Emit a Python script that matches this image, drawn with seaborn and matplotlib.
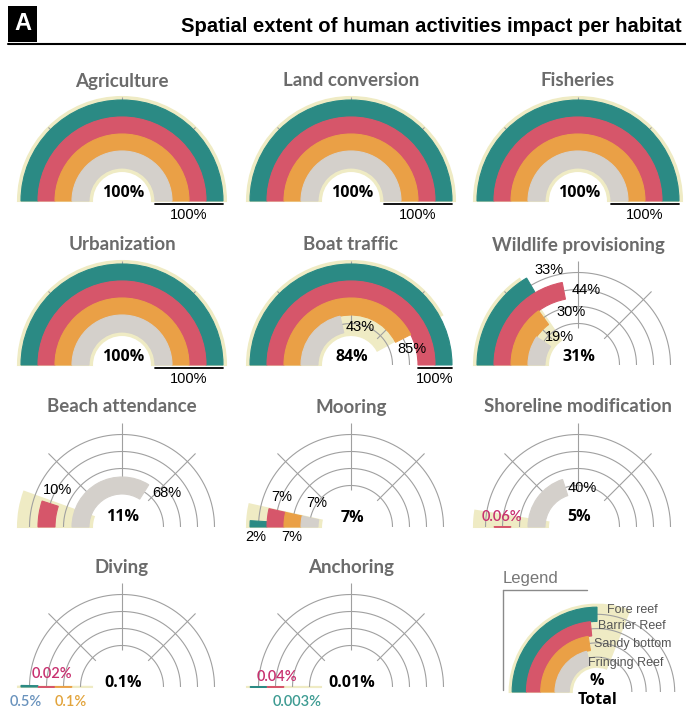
import numpy as np
import matplotlib
matplotlib.use('Agg')
import matplotlib.pyplot as plt
import seaborn as sns
from matplotlib.patches import Rectangle
from matplotlib.lines import Line2D

sns.set_theme(style='white')
plt.rcParams['font.family'] = ['Liberation Sans', 'DejaVu Sans']

# data: percentage of each habitat impacted per activity
activities = ['Agriculture', 'Land conversion', 'Fisheries', 'Urbanization',
              'Boat traffic', 'Wildlife provisioning', 'Beach attendance',
              'Mooring', 'Shoreline modification', 'Diving', 'Anchoring']
fore_reef = [100, 100, 100, 100, 100, 33, 0, 2, 0, 0.5, 0.003]
barrier_reef = [100, 100, 100, 100, 100, 44, 10, 7, 0.06, 0.02, 0.04]
sandy_bottom = [100, 100, 100, 100, 85, 30, 0, 7, 0, 0.1, 0]
fringing_reef = [100, 100, 100, 100, 43, 19, 68, 7, 40, 0, 0]
total = [100, 100, 100, 100, 84, 31, 11, 7, 5, 0.1, 0.01]

habitats = ['Fore reef', 'Barrier Reef', 'Sandy bottom', 'Fringing Reef']
legend_values = [50, 47, 45, 42]
legend_total = 62

colors = sns.color_palette(['#2b8a84', '#d6566a', '#eaa046', '#d4d0cb'])
cream = '#efebc4'
magenta = '#c8306f'
grid_c = '#a0a0a0'

W, H = 686, 710
R0, RW, RMAX = 33, 17, 105
col_x = [122, 351, 578]
row_base = [201, 365, 527, 687]

# where each ring label goes (ring index, dx, dy, colour) relative to the centre
label_pos = {
    'Boat traffic': [(3, 9, -38, 'black'), (2, 61, -16, 'black')],
    'Wildlife provisioning': [(0, -29, -95, 'black'), (1, 8, -75, 'black'),
                              (2, -7, -53, 'black'), (3, -19, -28, 'black')],
    'Beach attendance': [(1, -65, -37, 'black'), (3, 45, -34, 'black')],
    'Mooring': [(1, -69, -30, 'black'), (3, -34, -24, 'black'),
                (0, -95, 10, 'black'), (2, -59, 10, 'black')],
    'Shoreline modification': [(3, 4, -39, 'black'), (1, -76, -10, magenta)],
    'Diving': [(1, -70, -13, magenta), (0, -96, 15, '#6a93bd'), (2, -51, 15, '#e2a43c')],
    'Anchoring': [(1, -74, -10, magenta), (0, -54, 15, '#3d9b92')],
}
total_dy = {'Beach attendance': -10, 'Mooring': -9, 'Shoreline modification': -10,
            'Diving': -4, 'Anchoring': -4}

fig = plt.figure(figsize=(W / 100, H / 100), dpi=100)


def put(x, y, s, **kw):
    kw.setdefault('ha', 'center')
    kw.setdefault('va', 'center')
    fig.text(x / W, 1 - y / H, s, **kw)


def hline(x0, x1, y, **kw):
    fig.add_artist(Line2D([x0 / W, x1 / W], [1 - y / H] * 2, transform=fig.transFigure, **kw))


def pct(v):
    return f'{v:g}%'


def draw_panel(cx, base, values, tot, scale=1.0, radial=True):
    # a half polar axes sits in a square box, the centre 1/4 up from its bottom
    R = RMAX * scale
    ax = fig.add_axes([(cx - R) / W, (H - base - 0.5 * R) / H, 2 * R / W, 2 * R / H],
                      projection='polar')
    ax.set_theta_zero_location('W')
    ax.set_theta_direction(-1)
    ax.set_thetamin(0)
    ax.set_thetamax(180)
    ax.set_ylim(0, RMAX)
    ax.set_axis_off()
    # ring-centre arcs and short radial guides
    theta = np.linspace(0, np.pi, 181)
    for k in range(4):
        ax.plot(theta, np.full_like(theta, R0 + RW * (k + 0.5)), color=grid_c, lw=0.8, zorder=0.5)
    if radial:
        ax.vlines(np.deg2rad([45, 90, 135]), 37, 104, color=grid_c, lw=0.8, zorder=0.6)
    # total extent wedge behind the rings
    ax.bar(0, R0 + 4 * RW + 3 - (R0 - 3), width=np.pi * tot / 100, bottom=R0 - 3,
           align='edge', color=cream, edgecolor=cream, lw=1.5, zorder=0.2, clip_on=False)
    for i, v in enumerate(values):
        if v > 0:
            ax.bar(0, RW, width=np.pi * v / 100, bottom=R0 + (3 - i) * RW, align='edge',
                   color=colors[i], edgecolor=colors[i], lw=0.8, zorder=2, clip_on=False)
    return ax


# header
fig.add_artist(Rectangle((8 / W, 1 - 42 / H), 29 / W, 36 / H, transform=fig.transFigure,
                         facecolor='black', edgecolor='none'))
put(22.5, 24, 'A', color='white', fontsize=17, fontweight='bold')
put(682, 27, 'Spatial extent of human activities impact per habitat', ha='right',
    fontsize=14.6, fontweight='bold', color='black')
hline(8, 686, 44, color='black', lw=1.5)

for k, name in enumerate(activities):
    cx, base = col_x[k % 3], row_base[k // 3]
    vals = [fore_reef[k], barrier_reef[k], sandy_bottom[k], fringing_reef[k]]
    draw_panel(cx, base, vals, total[k])
    put(cx, base - 120, name, fontsize=13.5, fontweight='bold', color='#6b6b6b',
        family=['Lato', 'DejaVu Sans'])
    put(cx + 1, base + total_dy.get(name, -8), pct(total[k]), fontsize=11.5,
        fontweight='bold', color='black', family=['Open Sans', 'DejaVu Sans'])
    full = [i for i, v in enumerate(vals) if v >= 100]
    if full:
        r_lo = R0 + (3 - max(full)) * RW
        r_hi = R0 + 4 * RW
        hline(cx + r_lo, cx + r_hi, base + 3, color='black', lw=1.3)
        put(cx + (r_lo + r_hi) / 2, base + 14, '100%', fontsize=10.5, color='black')
    for ring, dx, dy, c in label_pos.get(name, []):
        if c == 'black':
            put(cx + dx, base + dy, pct(vals[ring]), fontsize=10.5, color=c)
        else:
            put(cx + dx, base + dy, pct(vals[ring]), fontsize=10.5, color=c,
                family=['Lato', 'DejaVu Sans'], fontweight='semibold')

# legend panel
lx, lb = 597, 692
draw_panel(lx, lb, legend_values, legend_total, scale=0.84, radial=False)
put(503, 578, 'Legend', ha='left', fontsize=12, color='#777777')
fig.add_artist(Line2D([503 / W, 503 / W], [1 - 590 / H, 1 - 690 / H],
                      transform=fig.transFigure, color='#8a8a8a', lw=1))
hline(503, 587, 590, color='#8a8a8a', lw=1)
for name, (x, y) in zip(habitats, [(632, 610), (632, 626), (633, 644), (626, 663)]):
    put(x, y, name, fontsize=9, color='#555555')
put(lx, 681, '%', fontsize=11.5, fontweight='bold', color='black',
    family=['Open Sans', 'DejaVu Sans'])
put(lx, 700, 'Total', fontsize=11.5, fontweight='bold', color='black',
    family=['Open Sans', 'DejaVu Sans'])

fig.savefig('out.png', dpi=100)
